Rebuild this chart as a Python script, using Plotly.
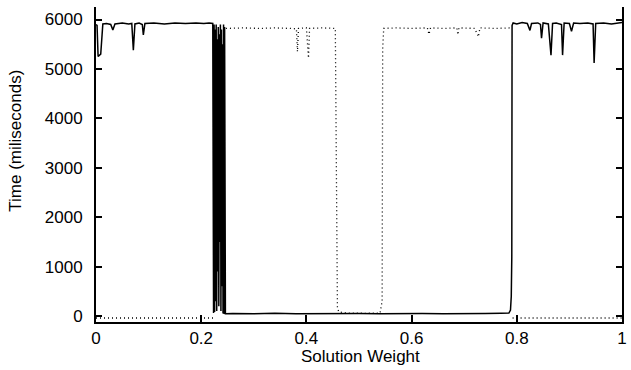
import plotly.graph_objects as go

# ---- data ----
solid_x = [0.0, 0.002, 0.004, 0.009, 0.013, 0.02, 0.028, 0.032, 0.036, 0.05, 0.062, 0.068, 0.071, 0.074,
           0.082, 0.088, 0.09, 0.093, 0.11, 0.13, 0.15, 0.17, 0.19, 0.205, 0.215, 0.222,
           0.2235, 0.2245, 0.2255, 0.2265, 0.2275, 0.2285, 0.2295, 0.2305, 0.2315, 0.2325, 0.2335,
           0.2345, 0.2355, 0.2365, 0.2375, 0.2385, 0.2395, 0.2405, 0.2415, 0.2425, 0.2435, 0.2445,
           0.246, 0.26, 0.3, 0.34, 0.38, 0.42, 0.46, 0.5, 0.54, 0.58, 0.62, 0.66, 0.7, 0.74, 0.77,
           0.785, 0.788, 0.7895, 0.7905, 0.791, 0.793, 0.8, 0.81, 0.82, 0.825, 0.828, 0.84, 0.845,
           0.847, 0.85, 0.86, 0.865, 0.868, 0.875, 0.885, 0.887, 0.89, 0.9, 0.904, 0.908, 0.92,
           0.935, 0.945, 0.947, 0.95, 0.965, 0.98, 0.99, 1.0]
solid_y = [5900, 5880, 5250, 5300, 5910, 5920, 5900, 5790, 5910, 5930, 5910, 5920, 5380, 5910,
           5930, 5900, 5690, 5920, 5930, 5910, 5930, 5920, 5930, 5920, 5930, 5920,
           60, 5900, 80, 5800, 300, 5900, 100, 5600, 900, 5850, 200, 5700, 1500, 5900, 100,
           5800, 600, 5500, 50, 5900, 40, 5850,
           45, 50, 45, 55, 45, 50, 40, 50, 45, 55, 50, 45, 55, 50, 55,
           60, 120, 400, 1200, 5880, 5930, 5910, 5940, 5920, 5780, 5920, 5930, 5900,
           5620, 5930, 5910, 5280, 5920, 5930, 5900, 5280, 5930, 5920, 5760, 5930, 5920,
           5930, 5910, 5120, 5920, 5930, 5910, 5930, 5940]

dot_x = [0.0, 0.224, None, 0.247, 0.28, 0.31, 0.34, 0.37, 0.381, 0.383, 0.385, 0.4, 0.404, 0.406,
         0.43, 0.455, 0.457, 0.459, 0.462, 0.48, 0.51, 0.54, 0.544, 0.545, 0.547, 0.57, 0.6,
         0.63, 0.633, 0.636, 0.66, 0.686, 0.688, 0.69, 0.72, 0.727, 0.73, 0.76, 0.789, None,
         0.792, 1.0]
dot_y = [-40, -40, None, 5820, 5830, 5820, 5830, 5820, 5810, 5350, 5820, 5830, 5220, 5820,
         5830, 5820, 3000, 150, 80, 60, 55, 60, 300, 5400, 5820, 5830, 5820,
         5830, 5700, 5830, 5820, 5830, 5690, 5830, 5820, 5650, 5830, 5820, 5830, None,
         -40, -40]

x_ticks = [0, 0.2, 0.4, 0.6, 0.8, 1]
x_tick_labels = ["0", "0.2", "0.4", "0.6", "0.8", "1"]
y_ticks = [0, 1000, 2000, 3000, 4000, 5000, 6000]
y_tick_labels = ["0", "1000", "2000", "3000", "4000", "5000", "6000"]

FONT = "Liberation Sans"

fig = go.Figure()
fig.add_trace(go.Scatter(x=dot_x, y=dot_y, mode="lines", connectgaps=False,
                         line=dict(color="black", width=1.3, dash="1px,3px"), hoverinfo="skip"))
fig.add_trace(go.Scatter(x=solid_x, y=solid_y, mode="lines",
                         line=dict(color="black", width=1.5), hoverinfo="skip"))

fig.update_layout(
    width=631, height=370,
    margin=dict(l=96, r=4, t=7, b=48),
    paper_bgcolor="white", plot_bgcolor="white",
    showlegend=False,
    font=dict(family=FONT, size=17, color="black"),
    xaxis=dict(range=[0, 1], tickvals=x_ticks, ticktext=x_tick_labels,
               showgrid=False, zeroline=False, showline=True, linecolor="black", linewidth=2,
               ticks="inside", ticklen=7, tickwidth=1.5, tickcolor="black",
               ticklabelstandoff=0, mirror=False),
    yaxis=dict(range=[-121, 6253], tickvals=y_ticks, ticktext=y_tick_labels,
               showgrid=False, zeroline=False, showline=True, linecolor="black", linewidth=2,
               ticks="inside", ticklen=6, tickwidth=1.5, tickcolor="black",
               ticklabelstandoff=8, mirror="ticks"),
    annotations=[
        dict(text="Time (miliseconds)", x=-0.153, y=0.574, xref="paper", yref="paper",
             textangle=-90, showarrow=False, xanchor="center", yanchor="middle",
             font=dict(family=FONT, size=17, color="black")),
        dict(text="Solution Weight", x=0.502, y=-0.11, xref="paper", yref="paper",
             showarrow=False, xanchor="center", yanchor="middle",
             font=dict(family=FONT, size=17, color="black")),
    ],
)

# remove the default 8px page margin so the figure fills the 631x370 window
fig.write_html("out.html", config={"displayModeBar": False},
               post_script="document.body.style.margin='0px';")
